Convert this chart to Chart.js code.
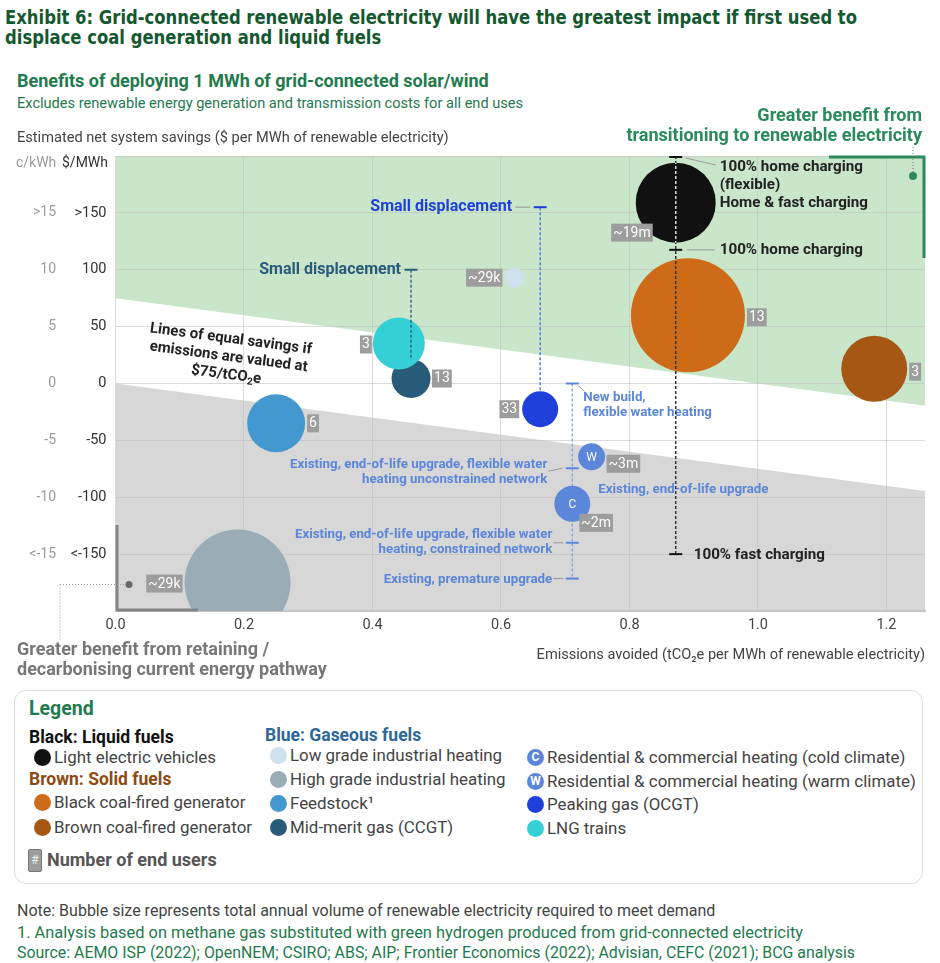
<!DOCTYPE html>
<html>
<head>
<meta charset="utf-8">
<script src="https://cdn.jsdelivr.net/npm/chart.js@4.4.1/dist/chart.umd.min.js"></script>
<style>
  body { margin: 0; width: 940px; height: 963px; position: relative; overflow: hidden; background: #fff; font-family: Roboto, "Noto Sans", sans-serif; }
  .t { position: absolute; white-space: nowrap; line-height: 1; }
  #title { left: 5px; top: 7px; font-family: "DejaVu Sans Condensed", "Liberation Sans Narrow", sans-serif; font-weight: bold; font-size: 20px; line-height: 20px; color: #14582f; transform-origin: 0 0; }
  #sub1 { left: 17px; top: 72px; font-size: 18px; font-weight: bold; color: #1f7a4e; }
  #sub2 { left: 17px; top: 96px; font-size: 14.6px; color: #1f7a4e; }
  #wrap { position: absolute; left: 0; top: 0; width: 940px; height: 690px; }
  #legend { position: absolute; left: 14px; top: 690px; width: 907px; height: 192px; border: 1px solid #dcdcdc; border-radius: 12px; }
  .lg { position: absolute; white-space: nowrap; font-size: 16.9px; color: #444; line-height: 20px; }
  .dot { position: absolute; width: 17px; height: 17px; border-radius: 50%; color: #fff; font-size: 12px; font-weight: bold; text-align: center; line-height: 17px; }
  .head { font-weight: bold; font-size: 17.5px; }
  .foot { position: absolute; left: 17px; white-space: nowrap; font-size: 16px; line-height: 18px; }
</style>
</head>
<body>
<div id="title" class="t"><span id="title1">Exhibit 6: Grid-connected renewable electricity will have the greatest impact if first used to</span><br>displace coal generation and liquid fuels</div>
<div id="sub1" class="t">Benefits of deploying 1 MWh of grid-connected solar/wind</div>
<div id="sub2" class="t">Excludes renewable energy generation and transmission costs for all end uses</div>

<div id="wrap"><canvas id="chart"></canvas></div>

<div id="legend"></div>

<div class="foot" style="top:902px;color:#444">Note: Bubble size represents total annual volume of renewable electricity required to meet demand</div>
<div class="foot" style="top:924px;color:#1f7a4e;font-size:16.4px">1. Analysis based on methane gas substituted with green hydrogen produced from grid-connected electricity</div>
<div class="foot" style="top:944px;color:#1f7a4e;font-size:15.9px">Source: AEMO ISP (2022); OpenNEM; CSIRO; ABS; AIP; Frontier Economics (2022); Advisian, CEFC (2021); BCG analysis</div>

<script>
// end uses, in drawing order
const endUses = [
  "Light electric vehicles",
  "Black coal-fired generator",
  "Brown coal-fired generator",
  "Low grade industrial heating",
  "High grade industrial heating",
  "Feedstock\u00b9",
  "Mid-merit gas (CCGT)",
  "Peaking gas (OCGT)",
  "LNG trains",
  "Residential & commercial heating (cold climate)",
  "Residential & commercial heating (warm climate)"
];

// tCO2e avoided per MWh of renewable electricity
const emissionsAvoided = [0.872, 0.891, 1.181, 0.621, 0.190, 0.250, 0.460, 0.661, 0.441, 0.711, 0.741];

// net system savings, $ per MWh
const netSavings = [159, 60, 13, 93, -175, -35, 4.4, -22.6, 35.2, -105.8, -64.4];

// bubble size (annual renewable volume), drawn as radius
const bubbleSize = [40, 57, 33, 10, 53, 29, 19.5, 18, 26, 18, 13.5];

// number of end users
const endUserCounts = ["~19m", "13", "3", "~29k", "~29k", "6", "13", "33", "3", "~2m", "~3m"];

const bubbleMarks = ["", "", "", "", "", "", "", "", "", "C", "W"];

// axis ticks
const yTickValues = [-150, -100, -50, 0, 50, 100, 150];
const yTickLabels = ["<-150", "-100", "-50", "0", "50", "100", ">150"];
const centsTickLabels = ["<-15", "-10", "-5", "0", "5", "10", ">15"];

// equal savings lines at $75/tCO2e
const carbonPrice = 75;
const equalSavingsIntercepts = [0, 75];

// ranges
const evRangeX = 0.872;
const evRangeSavings = [200, 117.5, -150];
const peakingRangeTop = 155;
const ccgtRangeTop = 100;
const heatingRangeX = 0.711;
const heatingRangeSavings = [0, -74.5, -140, -171.5];

// ---- styles ----

const colors = ["#111111", "#cd6b18", "#a65714", "#cfe1ec", "#9aadb7", "#4398cf", "#285a7a", "#1f3fdb", "#35cfd6", "#5b86d9", "#5b86d9"];

// count label offset from bubble centre (px) and which edge is anchored
const countOffsets = [[-23, 30, "right"], [59, 2, "left"], [35, 3, "left"], [-12, 0, "right"], [-55, 1, "right"],
  [31, 0, "left"], [21, 0, "left"], [-21, 0, "right"], [-27, 1, "right"], [7, 19, "left"], [15, 7, "left"]];

const FONT = "Roboto, 'Noto Sans', sans-serif";
const HEAT_BLUE = "#5b86d9";

// squeeze the exhibit title to the width of the original condensed face
const t1 = document.getElementById("title1");
document.getElementById("title").style.transform = "scaleX(" + (852 / t1.getBoundingClientRect().width) + ")";

function text(ctx, str, x, y, font, color, align) {
  ctx.font = font;
  ctx.fillStyle = color;
  ctx.textAlign = align || "left";
  ctx.textBaseline = "middle";
  ctx.fillText(str, x, y);
}

function line(ctx, x1, y1, x2, y2, color, width, dash) {
  ctx.beginPath();
  ctx.strokeStyle = color;
  ctx.lineWidth = width;
  ctx.setLineDash(dash || []);
  ctx.moveTo(x1, y1);
  ctx.lineTo(x2, y2);
  ctx.stroke();
  ctx.setLineDash([]);
}

const regionPlugin = {
  id: "regions",
  beforeDraw(chart) {
    const { ctx, chartArea: a, scales: { x, y } } = chart;
    const xr = x.max;
    const yAt = (b, v) => y.getPixelForValue(b - carbonPrice * v);
    ctx.save();
    ctx.beginPath();
    ctx.rect(a.left, a.top, a.right - a.left, a.bottom - a.top);
    ctx.clip();

    ctx.fillStyle = "#c9e6ca";
    ctx.beginPath();
    ctx.moveTo(a.left, yAt(equalSavingsIntercepts[1], 0));
    ctx.lineTo(a.right, yAt(equalSavingsIntercepts[1], xr));
    ctx.lineTo(a.right, a.top);
    ctx.lineTo(a.left, a.top);
    ctx.closePath();
    ctx.fill();

    ctx.fillStyle = "#d7d7d7";
    ctx.beginPath();
    ctx.moveTo(a.left, yAt(equalSavingsIntercepts[0], 0));
    ctx.lineTo(a.right, yAt(equalSavingsIntercepts[0], xr));
    ctx.lineTo(a.right, a.bottom);
    ctx.lineTo(a.left, a.bottom);
    ctx.closePath();
    ctx.fill();
    ctx.restore();
  }
};

const annotationPlugin = {
  id: "annotations",
  beforeDatasetsDraw(chart) {
    const { ctx, scales: { x, y } } = chart;
    ctx.save();
    // residential heating range runs behind the C bubble
    const hx = x.getPixelForValue(heatingRangeX);
    const hy = heatingRangeSavings.map(v => y.getPixelForValue(v));
    line(ctx, hx, hy[0], hx, hy[hy.length - 1], "#7f9fe3", 1.3, [3, 2]);
    hy.forEach(py => line(ctx, hx - 6.5, py, hx + 6.5, py, HEAT_BLUE, 2));
    ctx.restore();
  },
  afterDatasetsDraw(chart) {
    const { ctx, chartArea: a, scales: { x, y } } = chart;
    ctx.save();

    // C / W marks and end user counts
    emissionsAvoided.forEach((ev, i) => {
      const cx = x.getPixelForValue(ev);
      const cy = y.getPixelForValue(netSavings[i]);
      if (bubbleMarks[i]) text(ctx, bubbleMarks[i], cx, cy + 1, "12px " + FONT, "#fff", "center");
      ctx.font = "14px " + FONT;
      const w = ctx.measureText(endUserCounts[i]).width + 4;
      const [dx, dy, side] = countOffsets[i];
      const left = side === "left" ? cx + dx : cx + dx - w;
      ctx.save();
      ctx.beginPath();
      ctx.rect(a.left, a.top, a.right - a.left, a.bottom - a.top);
      ctx.clip();
      ctx.fillStyle = "#9d9d9d";
      ctx.fillRect(left, cy + dy - 9, w, 18);
      text(ctx, endUserCounts[i], left + w / 2, cy + dy + 0.5, "14px " + FONT, "#fff", "center");
      ctx.restore();
    });

    // residential heating labels
    const hx = x.getPixelForValue(heatingRangeX);
    const hy = heatingRangeSavings.map(v => y.getPixelForValue(v));
    const hf = "bold 13.3px " + FONT;
    line(ctx, hx + 6, hy[0] + 2, hx + 12, hy[0] + 8, "#999", 1);
    text(ctx, "New build,", hx + 11, hy[0] + 14, hf, HEAT_BLUE);
    text(ctx, "flexible water heating", hx + 11, hy[0] + 29, hf, HEAT_BLUE);
    line(ctx, hx - 24, hy[1] + 3, hx - 10, hy[1], "#999", 1);
    text(ctx, "Existing, end-of-life upgrade, flexible water", hx - 25, hy[1] - 4, hf, HEAT_BLUE, "right");
    text(ctx, "heating unconstrained network", hx - 25, hy[1] + 11, hf, HEAT_BLUE, "right");
    line(ctx, hx - 19, hy[2], hx - 9, hy[2], "#999", 1);
    text(ctx, "Existing, end-of-life upgrade, flexible water", hx - 20, hy[2] - 8, hf, HEAT_BLUE, "right");
    text(ctx, "heating, constrained network", hx - 20, hy[2] + 7, hf, HEAT_BLUE, "right");
    line(ctx, hx - 19, hy[3], hx - 9, hy[3], "#999", 1);
    text(ctx, "Existing, premature upgrade", hx - 20, hy[3] + 1, hf, HEAT_BLUE, "right");
    const cIdx = 9;
    text(ctx, "Existing, end-of-life upgrade", hx + 26, y.getPixelForValue(netSavings[cIdx]) - 14, hf, HEAT_BLUE);

    // peaking gas small displacement
    const px = x.getPixelForValue(emissionsAvoided[7]);
    const pTop = y.getPixelForValue(peakingRangeTop);
    const pEnd = y.getPixelForValue(netSavings[7]) - bubbleSize[7];
    line(ctx, px, pTop, px, pEnd, "#4a68e4", 1.3, [3, 2]);
    line(ctx, px - 6.5, pTop, px + 6.5, pTop, "#1f3fdb", 2);
    line(ctx, px - 25, pTop, px - 10, pTop, "#999", 1);
    text(ctx, "Small displacement", px - 28, pTop, "bold 16px " + FONT, "#1f3fdb", "right");

    // mid-merit small displacement
    const gx = x.getPixelForValue(emissionsAvoided[6]);
    const gTop = y.getPixelForValue(ccgtRangeTop);
    const gEnd = y.getPixelForValue(netSavings[6]) - bubbleSize[6];
    line(ctx, gx, gTop, gx, gEnd, "#285a7a", 1.3, [3, 2]);
    line(ctx, gx - 6.5, gTop, gx + 6.5, gTop, "#285a7a", 2);
    text(ctx, "Small displacement", gx - 10, gTop, "bold 16px " + FONT, "#285a7a", "right");

    // light electric vehicle charging range
    const ex = x.getPixelForValue(evRangeX);
    const ey = evRangeSavings.map(v => y.getPixelForValue(v));
    line(ctx, ex, ey[0], ex, ey[2], "#333", 1.5, [3, 2]);
    ctx.save();
    ctx.beginPath();
    ctx.arc(x.getPixelForValue(emissionsAvoided[0]), y.getPixelForValue(netSavings[0]), bubbleSize[0], 0, Math.PI * 2);
    ctx.clip();
    line(ctx, ex, ey[0], ex, ey[2], "#d8d8d8", 1.5, [3, 2]);
    ctx.restore();
    ey.forEach((py, k) => { const o = k === 0 ? 1 : 0; line(ctx, ex - 6.5, py + o, ex + 6.5, py + o, "#111", 2); });
    const ef = "bold 15.2px " + FONT;
    line(ctx, ex + 10, ey[0] + 2, ex + 40, ey[0] + 9, "#9a9a9a", 1);
    text(ctx, "100% home charging", ex + 44, ey[0] + 11, ef, "#222");
    text(ctx, "(flexible)", ex + 44, ey[0] + 29, ef, "#222");
    text(ctx, "Home & fast charging", ex + 44, y.getPixelForValue(netSavings[0]) + 1, ef, "#222");
    line(ctx, ex + 11, ey[1], ex + 39, ey[1], "#9a9a9a", 1);
    text(ctx, "100% home charging", ex + 44, ey[1], ef, "#222");
    text(ctx, "100% fast charging", ex + 18, ey[2] + 1, ef, "#222");

    // equal savings note, rotated with the $75/tCO2e lines
    const ang = Math.atan2(y.getPixelForValue(-carbonPrice) - y.getPixelForValue(0), x.getPixelForValue(1) - x.getPixelForValue(0));
    ctx.save();
    ctx.translate(x.getPixelForValue(0.176), y.getPixelForValue(23.2));
    ctx.rotate(ang);
    const rf = "bold 15px " + FONT;
    text(ctx, "Lines of equal savings if", 0, -18, rf, "#222", "center");
    text(ctx, "emissions are valued at", 0, 0, rf, "#222", "center");
    ctx.font = rf;
    const w1 = ctx.measureText("$75/tCO").width;
    ctx.font = "bold 10px " + FONT;
    const w2 = ctx.measureText("2").width;
    ctx.font = rf;
    const w3 = ctx.measureText("e").width;
    const sx = -(w1 + w2 + w3) / 2;
    text(ctx, "$75/tCO", sx, 18, rf, "#222");
    text(ctx, "2", sx + w1, 22, "bold 10px " + FONT, "#222");
    text(ctx, "e", sx + w1 + w2, 18, rf, "#222");
    ctx.restore();

    ctx.restore();
  },
  afterDraw(chart) {
    const { ctx, chartArea: a, scales: { y } } = chart;
    ctx.save();
    // cents per kWh companion axis
    yTickValues.forEach((v, i) => text(ctx, centsTickLabels[i], 56, y.getPixelForValue(v), "14px " + FONT, "#9a9a9a", "right"));
    text(ctx, "c/kWh", 16, 163, "14px " + FONT, "#9a9a9a");
    text(ctx, "$/MWh", 62, 163, "14px " + FONT, "#333");
    text(ctx, "Estimated net system savings ($ per MWh of renewable electricity)", 17, 138, "14.6px " + FONT, "#444");
    text(ctx, "Emissions avoided (tCO\u2082e per MWh of renewable electricity)", a.right, 655, "14.6px " + FONT, "#444", "right");

    // greater benefit from transitioning
    const g = "#2a8a5b";
    text(ctx, "Greater benefit from", 922, 116, "bold 18px " + FONT, g, "right");
    text(ctx, "transitioning to renewable electricity", 922, 136, "bold 18px " + FONT, g, "right");
    ctx.beginPath();
    ctx.strokeStyle = g;
    ctx.lineWidth = 3;
    ctx.moveTo(829, a.top + 1);
    ctx.lineTo(a.right - 1, a.top + 1);
    ctx.lineTo(a.right - 1, 258);
    ctx.stroke();
    line(ctx, 913, 147, 913, 175, "#777", 1, [1, 2]);
    ctx.beginPath();
    ctx.fillStyle = g;
    ctx.arc(913, 176, 4, 0, Math.PI * 2);
    ctx.fill();

    // greater benefit from retaining
    text(ctx, "Greater benefit from retaining /", 17, 650, "bold 18px " + FONT, "#777");
    text(ctx, "decarbonising current energy pathway", 17, 670, "bold 18px " + FONT, "#777");
    ctx.beginPath();
    ctx.strokeStyle = "#858585";
    ctx.lineWidth = 3;
    ctx.moveTo(a.left + 1.5, 525);
    ctx.lineTo(a.left + 1.5, a.bottom - 1);
    ctx.lineTo(198, a.bottom - 1);
    ctx.stroke();
    line(ctx, 60, 584.5, 126, 584.5, "#999", 1, [1, 2]);
    line(ctx, 60, 584.5, 60, 641, "#999", 1, [1, 2]);
    ctx.beginPath();
    ctx.fillStyle = "#666";
    ctx.arc(129, 584.5, 3.5, 0, Math.PI * 2);
    ctx.fill();
    ctx.restore();
  }
};

new Chart(
  document.getElementById("chart"),
  {
    type: "bubble",
    data: {
      datasets: [
        {
          label: "End uses",
          data: emissionsAvoided.map((v, i) => ({ x: v, y: netSavings[i], r: bubbleSize[i] })),
          backgroundColor: colors,
          borderWidth: 0,
          hoverRadius: 0
        }
      ]
    },
    options: {
      responsive: true,
      maintainAspectRatio: false,
      animation: false,
      events: [],
      layout: { autoPadding: false, padding: { top: 156, right: 15, bottom: 49, left: 0 } },
      plugins: { legend: { display: false }, tooltip: { enabled: false } },
      scales: {
        x: {
          type: "linear",
          min: 0,
          max: 1.26,
          afterFit: s => { s.height = 30; },
          ticks: { stepSize: 0.2, includeBounds: false, padding: 6, color: "#444", font: { family: FONT, size: 14.5 }, callback: v => v.toFixed(1) },
          grid: { color: "rgba(190,190,190,0.55)", drawTicks: false },
          border: { color: "#c4c4c4", width: 2 }
        },
        y: {
          type: "linear",
          min: -200,
          max: 200,
          afterFit: s => { s.width = 115.5; },
          ticks: {
            stepSize: 50,
            padding: 9,
            color: "#333",
            font: { family: FONT, size: 14.5 },
            callback: v => { const i = yTickValues.indexOf(v); return i < 0 ? "" : yTickLabels[i]; }
          },
          grid: { color: "rgba(190,190,190,0.55)", drawTicks: false },
          border: { color: "#dcdcdc", width: 1 }
        }
      }
    },
    plugins: [regionPlugin, annotationPlugin]
  }
);

// legend
const legendCols = [
  { x: 14, head: "Black: Liquid fuels", headColor: "#111", headY: 46, items: [0], itemY: [66] },
  { x: 14, head: "Brown: Solid fuels", headColor: "#8d4a12", headY: 88, items: [1, 2], itemY: [111, 136] },
  { x: 250, head: "Blue: Gaseous fuels", headColor: "#2c6898", headY: 44, items: [3, 4, 5, 6], itemY: [64, 88, 112, 136] },
  { x: 507, head: "", items: [9, 10, 7, 8], itemY: [66, 90, 113, 137] }
];

const legend = document.getElementById("legend");
let html = '<div class="lg head" style="left:14px;top:8px;font-size:19.5px;color:#1f7a4e">Legend</div>';
legendCols.forEach(c => {
  if (c.head) html += `<div class="lg head" style="left:${c.x}px;top:${c.headY - 10}px;color:${c.headColor}">${c.head}</div>`;
  c.items.forEach((k, j) => {
    const yy = c.itemY[j];
    html += `<div class="dot" style="left:${c.x + 5}px;top:${yy - 8.5}px;background:${colors[k]}">${bubbleMarks[k]}</div>`;
    html += `<div class="lg" style="left:${c.x + 25}px;top:${yy - 10}px">${endUses[k].replace("&", "&amp;")}</div>`;
  });
});
html += '<div style="position:absolute;left:13px;top:158px;width:12px;height:21px;background:#9d9d9d;border:1px solid #777;border-radius:2px;color:#eee;font-size:12px;text-align:center;line-height:21px">#</div>';
html += '<div class="lg head" style="left:32px;top:159px;color:#555;font-size:18px">Number of end users</div>';
legend.innerHTML = html;
</script>
</body>
</html>
